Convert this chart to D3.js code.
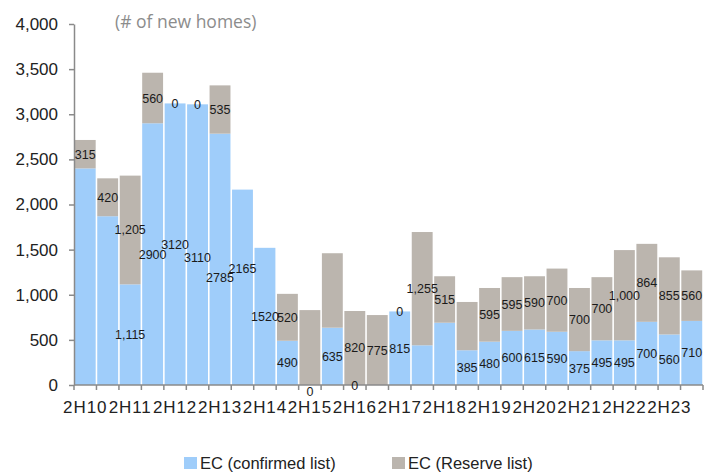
<!DOCTYPE html>
<html>
<head>
<meta charset="utf-8">
<script src="https://cdn.jsdelivr.net/npm/d3@7/dist/d3.min.js"></script>
<style>
  html, body { margin: 0; padding: 0; background: #fff; }
  svg { display: block; font-family: "Liberation Sans", Arial, sans-serif; }
</style>
</head>
<body>
<svg id="chart" width="713" height="474"></svg>
<script>
// Half-year periods
const categories = [
  "2H10","1H11","2H11","1H12","2H12","1H13","2H13","1H14","2H14","1H15",
  "2H15","1H16","2H16","1H17","2H17","1H18","2H18","1H19","2H19","1H20",
  "2H20","1H21","2H21","1H22","2H22","1H23","2H23","1H24"
];
// Executive condominium launches, confirmed list
const confirmed = [
  2400, 1870, 1115, 2900, 3120, 3110, 2785, 2165, 1520, 490,
  0, 635, 0, 0, 815, 440, 690, 385, 480, 600,
  615, 590, 375, 495, 495, 700, 560, 710
];
// Executive condominium launches, reserve list
const reserve = [
  315, 420, 1205, 560, 0, 0, 535, 0, 0, 520,
  830, 825, 820, 775, 0, 1255, 515, 535, 595, 595,
  590, 700, 700, 700, 1000, 864, 855, 560
];
// Segments whose value label is not shown
const hiddenConfirmedLabels = [0, 1, 13, 15, 16];
const hiddenReserveLabels = [7, 8, 10, 11, 17];
// Confirmed labels written without a thousands separator
const plainConfirmedLabels = [3, 4, 5, 6, 7, 8];

const yTicks = [0, 500, 1000, 1500, 2000, 2500, 3000, 3500, 4000];
const seriesNames = ["EC (confirmed list)", "EC (Reserve list)"];
const colors = ["#9fcdfa", "#bbb5ae"];

const svg = d3.select("#chart");
const plotLeft = 74, plotRight = 703, plotTop = 24, plotBottom = 385;

const x = d3.scaleBand().domain(categories).range([plotLeft, plotRight]).paddingInner(0.07).paddingOuter(0.035);
const y = d3.scaleLinear().domain([0, 4000]).range([plotBottom, plotTop]);

const rows = categories.map((c, i) => ({ cat: c, i, confirmed: confirmed[i], reserve: reserve[i] }));
const stack = d3.stack().keys(["confirmed", "reserve"]);
const layers = stack(rows);

// bars
svg.append("g").selectAll("g").data(layers).join("g")
  .attr("fill", (d, k) => colors[k])
  .selectAll("rect").data(d => d).join("rect")
  .attr("x", d => x(d.data.cat))
  .attr("width", x.bandwidth())
  .attr("y", d => y(d[1]))
  .attr("height", d => y(d[0]) - y(d[1]));

// axes
const axisColor = "#8a8a8a";
const yAxis = svg.append("g").attr("transform", `translate(${plotLeft},0)`)
  .call(d3.axisLeft(y).tickValues(yTicks).tickFormat(d3.format(",")).tickSize(5).tickSizeOuter(0));
yAxis.select(".domain").attr("stroke", axisColor).attr("stroke-width", 1.5);
yAxis.selectAll(".tick line").attr("stroke", axisColor).attr("stroke-width", 1.5);
yAxis.selectAll(".tick text").attr("x", -16).attr("fill", "#222").attr("font-size", 17).attr("font-family", "Liberation Sans, Arial, sans-serif");

const xAxisG = svg.append("g").attr("transform", `translate(0,${plotBottom})`);
xAxisG.append("line").attr("x1", plotLeft).attr("x2", plotRight).attr("stroke", axisColor).attr("stroke-width", 1.5);
// tick marks at band boundaries
const step = x.step();
const boundaries = categories.map((c, i) => x(c) - (step - x.bandwidth()) / 2).concat([plotRight]);
xAxisG.selectAll("line.tk").data(boundaries).join("line").attr("class", "tk")
  .attr("x1", d => d).attr("x2", d => d).attr("y1", 0).attr("y2", 5)
  .attr("stroke", axisColor).attr("stroke-width", 1.5);
// every other category labelled
xAxisG.selectAll("text").data(categories.filter((c, i) => i % 2 === 0)).join("text")
  .attr("x", d => x(d) + x.bandwidth() / 2)
  .attr("y", 28)
  .attr("text-anchor", "middle")
  .attr("fill", "#222")
  .attr("font-size", 17)
  .attr("letter-spacing", 0.9)
  .text(d => d);

// value labels; a few are nudged vertically so neighbours don't collide
const comma = d3.format(",");
const nudge = { "c5": 13, "c6": 18, "c7": -19, "c10": 6 };
const labels = [];
rows.forEach(r => {
  if (!hiddenConfirmedLabels.includes(r.i)) {
    labels.push({
      cat: r.cat,
      text: plainConfirmedLabels.includes(r.i) ? String(r.confirmed) : comma(r.confirmed),
      v: r.confirmed / 2,
      dy: nudge["c" + r.i] || 0
    });
  }
  if (!hiddenReserveLabels.includes(r.i)) {
    labels.push({ cat: r.cat, text: comma(r.reserve), v: r.confirmed + r.reserve / 2, dy: 0 });
  }
});
svg.append("g").selectAll("text").data(labels).join("text")
  .attr("x", d => x(d.cat) + x.bandwidth() / 2)
  .attr("y", d => y(d.v) + 4.5 + d.dy)
  .attr("text-anchor", "middle")
  .attr("font-size", 12.5)
  .attr("fill", "#1a1a1a")
  .text(d => d.text);

// unit note
svg.append("text")
  .attr("x", 115).attr("y", 28)
  .attr("font-family", "Open Sans, Lato, sans-serif")
  .attr("font-size", 17.5)
  .attr("fill", "#8c8c8c")
  .text("(# of new homes)");

// legend
const legendItems = [{ x: 184, tx: 200 }, { x: 392, tx: 408 }];
const legend = svg.append("g");
legendItems.forEach((it, k) => {
  legend.append("rect").attr("x", it.x).attr("y", 457).attr("width", 13).attr("height", 12).attr("fill", colors[k]);
  legend.append("text").attr("x", it.tx).attr("y", 469).attr("font-size", 16.5).attr("fill", "#222").text(seriesNames[k]);
});
</script>
</body>
</html>
